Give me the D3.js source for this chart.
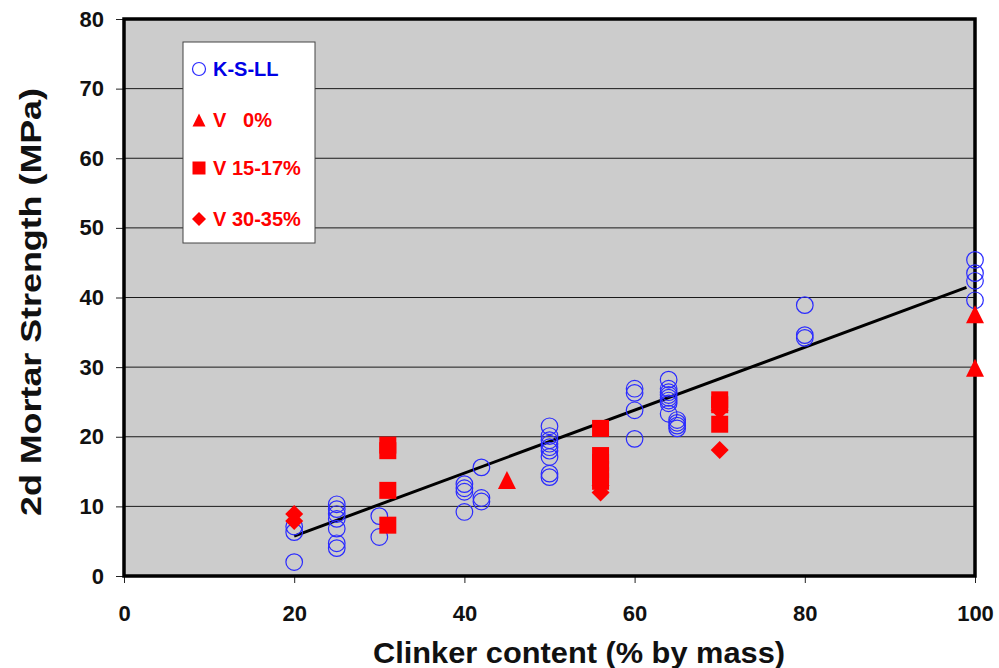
<!DOCTYPE html>
<html>
<head>
<meta charset="utf-8">
<script src="https://cdn.jsdelivr.net/npm/d3@7"></script>
<style>
  body { margin: 0; background: #fff; }
  text { font-family: "Liberation Sans", Arial, sans-serif; font-weight: bold; }
</style>
</head>
<body>
<div id="chart"></div>
<script>
// Data: [clinker %, strength MPa]
const kslValues = [
    [20, 2.0], [20, 6.3], [20, 7.1],
    [25, 10.3], [25, 9.6], [25, 8.9], [25, 8.2], [25, 6.8], [25, 4.7], [25, 4.0],
    [30, 8.6], [30, 5.6],
    [40, 13.2], [40, 12.6], [40, 12.1], [40, 9.2],
    [42, 15.6], [42, 11.2], [42, 10.7],
    [50, 21.5], [50, 20.1], [50, 19.5], [50, 19.0], [50, 18.5], [50, 18.0], [50, 17.1], [50, 14.7], [50, 14.2],
    [60, 26.9], [60, 26.3], [60, 23.8], [60, 19.7],
    [64, 28.2], [64, 26.9], [64, 26.4], [64, 26.0], [64, 25.6], [64, 25.2], [64, 24.8], [64, 23.3],
    [65, 22.4], [65, 22.0], [65, 21.6], [65, 21.2],
    [80, 38.9], [80, 34.6], [80, 34.2],
    [100, 45.4], [100, 43.5], [100, 42.4], [100, 39.6]
];
const v0Values = [[45, 13.8], [100, 37.6], [100, 29.9]];
const v15Values = [
    [31, 18.8], [31, 18.0], [31, 12.3], [31, 7.3],
    [56, 21.2], [56, 17.3], [56, 16.3], [56, 15.3], [56, 14.5], [56, 13.6],
    [70, 25.3], [70, 24.6], [70, 21.8]
];
const v30Values = [[20, 8.9], [20, 7.9], [56, 13.0], [56, 12.0], [70, 23.8], [70, 18.1]];

// Linear trend line: y = trendIntercept + trendSlope * x
const trendSlope = 0.452;
const trendIntercept = -3.3;
const trendRange = [20, 99];

const xTicks = [0, 20, 40, 60, 80, 100];
const yTicks = [0, 10, 20, 30, 40, 50, 60, 70, 80];

const legendLabels = ["K-S-LL", "V   0%", "V 15-17%", "V 30-35%"];

// Layout
const W = 999, H = 668;
const margin = { top: 19, right: 24, bottom: 92, left: 124 };
const width = W - margin.left - margin.right;
const height = H - margin.top - margin.bottom;

const blue = "#2a2aff";
const red = "#ff0000";

const svg = d3.select("#chart")
    .append("svg")
    .attr("width", W)
    .attr("height", H);

const g = svg.append("g")
    .attr("transform", `translate(${margin.left},${margin.top})`);

const x = d3.scaleLinear().domain([0, 100]).range([0, width]);
const y = d3.scaleLinear().domain([0, 80]).range([height, 0]);

// Plot background
g.append("rect")
    .attr("width", width)
    .attr("height", height)
    .attr("fill", "#cccccc");

// Gridlines
g.selectAll(".grid")
    .data(yTicks.filter(t => t > 0 && t < 80))
    .enter()
    .append("line")
    .attr("x1", 0)
    .attr("x2", width)
    .attr("y1", d => y(d))
    .attr("y2", d => y(d))
    .attr("stroke", "#1a1a1a")
    .attr("stroke-width", 1);

// Axes
const yAxis = g.append("g")
    .call(d3.axisLeft(y).tickValues(yTicks).tickSize(8).tickPadding(12));
const xAxis = g.append("g")
    .attr("transform", `translate(0,${height})`)
    .call(d3.axisBottom(x).tickValues(xTicks).tickSize(7).tickPadding(22));

[xAxis, yAxis].forEach(a => {
    a.select(".domain").remove();
    a.selectAll("line").attr("stroke", "#222");
    a.selectAll("text")
        .attr("fill", "#111")
        .style("font-size", "22px")
        .style("font-weight", "bold");
});

// Plot frame
g.append("rect")
    .attr("width", width)
    .attr("height", height)
    .attr("fill", "none")
    .attr("stroke", "#000")
    .attr("stroke-width", 3.5);

// Marker shapes
const triangleType = {
    draw(ctx, size) {
        const s = Math.sqrt(size);
        ctx.moveTo(0, -s / 2);
        ctx.lineTo(s / 2, s / 2);
        ctx.lineTo(-s / 2, s / 2);
        ctx.closePath();
    }
};
const diamondType = {
    draw(ctx, size) {
        const r = Math.sqrt(size) / 2;
        ctx.moveTo(0, -r);
        ctx.lineTo(r, 0);
        ctx.lineTo(0, r);
        ctx.lineTo(-r, 0);
        ctx.closePath();
    }
};

// Trend line
g.append("line")
    .attr("x1", x(trendRange[0]))
    .attr("y1", y(trendIntercept + trendSlope * trendRange[0]))
    .attr("x2", x(trendRange[1]))
    .attr("y2", y(trendIntercept + trendSlope * trendRange[1]))
    .attr("stroke", "#000")
    .attr("stroke-width", 3);

// Series
g.selectAll(".ksl")
    .data(kslValues)
    .enter()
    .append("circle")
    .attr("cx", d => x(d[0]))
    .attr("cy", d => y(d[1]))
    .attr("r", 8.3)
    .attr("fill", "none")
    .attr("stroke", blue)
    .attr("stroke-width", 1.2);

g.selectAll(".v15")
    .data(v15Values)
    .enter()
    .append("path")
    .attr("transform", d => `translate(${x(d[0])},${y(d[1])})`)
    .attr("d", d3.symbol(d3.symbolSquare, 17 * 17))
    .attr("fill", red);

g.selectAll(".v30")
    .data(v30Values)
    .enter()
    .append("path")
    .attr("transform", d => `translate(${x(d[0])},${y(d[1])})`)
    .attr("d", d3.symbol(diamondType, 18 * 18))
    .attr("fill", red);

g.selectAll(".v0")
    .data(v0Values)
    .enter()
    .append("path")
    .attr("transform", d => `translate(${x(d[0])},${y(d[1])})`)
    .attr("d", d3.symbol(triangleType, 18 * 18))
    .attr("fill", red);

// Legend
const legend = svg.append("g").attr("transform", "translate(183,42)");
legend.append("rect")
    .attr("width", 132)
    .attr("height", 201)
    .attr("fill", "#fff")
    .attr("stroke", "#444")
    .attr("stroke-width", 1);

const legendRows = [27, 78, 126, 177];
const legendShapes = [null, triangleType, d3.symbolSquare, diamondType];
legendLabels.forEach((label, i) => {
    const row = legend.append("g").attr("transform", `translate(16,${legendRows[i]})`);
    if (i === 0) {
        row.append("circle")
            .attr("r", 6.5)
            .attr("fill", "none")
            .attr("stroke", blue)
            .attr("stroke-width", 1.2);
    } else {
        row.append("path")
            .attr("d", d3.symbol(legendShapes[i], i === 3 ? 14 * 14 : 13 * 13))
            .attr("fill", red);
    }
    row.append("text")
        .attr("x", 14)
        .attr("y", 7)
        .attr("xml:space", "preserve")
        .style("white-space", "pre")
        .style("font-size", "20px")
        .attr("fill", i === 0 ? "#0000e6" : red)
        .text(label);
});

// Axis titles
svg.append("text")
    .attr("x", 579)
    .attr("y", 663)
    .attr("text-anchor", "middle")
    .attr("textLength", 412)
    .attr("lengthAdjust", "spacingAndGlyphs")
    .style("font-size", "30px")
    .attr("fill", "#111")
    .text("Clinker content (% by mass)");

svg.append("text")
    .attr("transform", "translate(41,302) rotate(-90)")
    .attr("text-anchor", "middle")
    .attr("textLength", 428)
    .attr("lengthAdjust", "spacingAndGlyphs")
    .style("font-size", "30px")
    .attr("fill", "#111")
    .text("2d Mortar Strength (MPa)");
</script>
</body>
</html>
